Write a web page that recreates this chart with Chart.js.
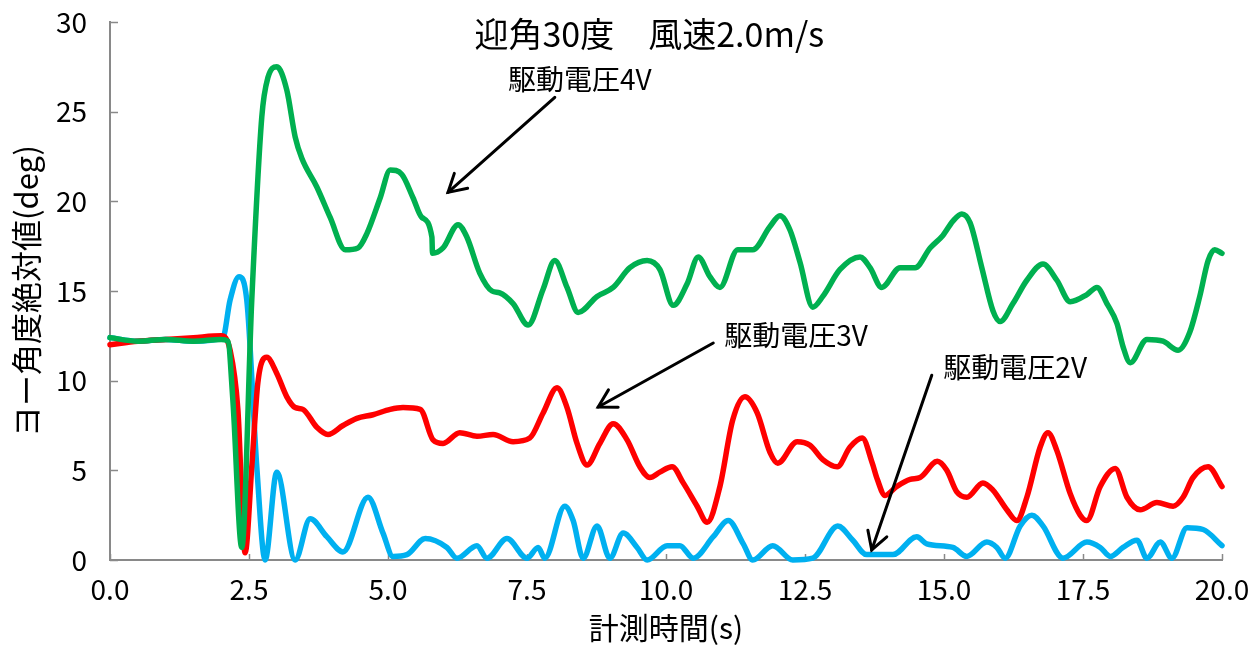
<!DOCTYPE html>
<html><head><meta charset="utf-8">
<script src="https://cdn.jsdelivr.net/npm/chart.js@4.4.1/dist/chart.umd.min.js"></script>
<style>html,body{margin:0;padding:0;background:#fff;}#wrap{width:1259px;height:648px;}</style>
</head><body><div id="wrap"><canvas id="c" width="1259" height="648"></canvas></div>
<script>
const titleText = '迎角30度　風速2.0m/s';
const xTitle = '計測時間(s)';
const yTitle = 'ヨー角度絶対値(deg)';
const xTicks = [0, 2.5, 5, 7.5, 10, 12.5, 15, 17.5, 20];
const yTicks = [0, 5, 10, 15, 20, 25, 30];

const t4V = [0,0.5,1,1.5,2,2.12,2.21,2.37,2.55,2.73,2.84,3.0,3.18,3.33,3.45,3.72,3.96,4.23,4.46,4.62,4.86,5.04,5.25,5.45,5.61,5.79,5.8,5.99,6.26,6.42,6.65,6.87,7.01,7.25,7.52,7.79,8.0,8.22,8.42,8.76,9.05,9.35,9.66,9.89,10.13,10.38,10.58,10.79,10.97,11.29,11.56,11.87,12.05,12.23,12.41,12.64,12.82,13.13,13.49,13.67,13.88,14.21,14.48,14.75,14.98,15.16,15.32,15.47,15.68,15.88,16.01,16.24,16.49,16.78,17.03,17.27,17.57,17.75,17.93,18.11,18.22,18.35,18.65,18.94,19.21,19.42,19.6,19.75,19.87,20.0];
const v4V = [12.4,12.2,12.3,12.2,12.3,12.2,8.9,0.7,14.5,24.7,26.9,27.5,26.2,23.6,22.4,20.8,19.1,17.3,17.4,18.2,20.2,21.75,21.5,20.2,19.1,18.0,17.1,17.4,18.7,18.0,16.0,15.0,14.9,14.3,13.1,15.1,16.7,15.2,13.8,14.7,15.2,16.3,16.7,16.2,14.2,15.4,16.9,15.8,15.2,17.3,17.3,18.6,19.2,18.4,16.6,14.1,14.7,16.2,16.9,16.3,15.2,16.3,16.3,17.4,18.1,18.9,19.3,18.8,16.3,13.9,13.3,14.3,15.6,16.5,15.6,14.4,14.8,15.2,14.3,13.2,11.9,11.0,12.3,12.2,11.7,12.7,14.7,16.7,17.3,17.1];

const t3V = [0,0.5,1,1.5,2,2.16,2.3,2.43,2.55,2.66,2.82,3.0,3.18,3.33,3.47,3.72,3.92,4.19,4.44,4.73,5.04,5.27,5.58,5.81,5.99,6.29,6.6,6.89,7.25,7.55,7.79,8.04,8.22,8.4,8.58,8.81,9.05,9.3,9.53,9.71,9.89,10.11,10.31,10.56,10.74,10.97,11.2,11.42,11.64,11.87,12.01,12.36,12.59,12.82,13.08,13.31,13.53,13.71,13.8,13.94,14.15,14.39,14.57,14.88,15.05,15.23,15.41,15.7,15.88,16.13,16.31,16.49,16.73,16.87,17.03,17.27,17.45,17.57,17.81,18.08,18.29,18.53,18.83,19.12,19.3,19.48,19.75,20.0];
const v3V = [12.0,12.2,12.3,12.4,12.5,11.7,8.4,0.4,5.2,9.9,11.3,10.4,9.1,8.5,8.4,7.4,7.0,7.5,7.9,8.1,8.4,8.5,8.4,6.7,6.5,7.1,6.9,7.0,6.6,6.8,8.2,9.6,8.5,6.5,5.3,6.5,7.6,6.7,5.2,4.6,4.9,5.2,4.3,3.0,2.1,4.1,7.8,9.1,8.2,6.0,5.4,6.6,6.4,5.6,5.2,6.3,6.8,5.4,4.5,3.6,4.1,4.5,4.6,5.5,5.0,3.8,3.5,4.3,3.9,2.8,2.2,3.5,6.3,7.1,6.1,3.7,2.5,2.2,4.1,5.1,3.5,2.8,3.2,3.0,3.5,4.6,5.2,4.1];

const t2V = [0,0.5,1,1.5,2.03,2.16,2.32,2.46,2.64,2.79,3.0,3.33,3.6,3.9,4.19,4.64,4.91,5.09,5.34,5.67,6.06,6.24,6.6,6.78,7.14,7.5,7.7,7.82,8.18,8.33,8.51,8.76,8.99,9.23,9.48,9.66,10.02,10.25,10.49,10.85,11.12,11.39,11.56,11.92,12.28,12.64,13.09,13.36,13.61,13.85,14.08,14.51,14.69,15.16,15.41,15.77,15.95,16.1,16.37,16.58,16.78,17.14,17.57,17.81,17.99,18.22,18.47,18.65,18.89,19.1,19.37,19.66,20.0];
const v2V = [12.4,12.2,12.3,12.2,12.4,14.5,15.8,14.5,5.2,0.0,4.9,0.0,2.3,1.3,0.45,3.5,1.5,0.2,0.3,1.2,0.7,0.1,0.8,0.1,1.2,0.1,0.7,0.1,3.0,2.2,0.1,1.9,0.1,1.5,0.7,0.0,0.8,0.8,0.1,1.3,2.2,0.9,0.0,0.8,0.0,0.1,1.9,1.1,0.3,0.3,0.3,1.3,0.9,0.7,0.2,1.0,0.7,0.1,1.9,2.5,1.9,0.1,1.0,0.7,0.2,0.7,1.1,0.1,1.0,0.1,1.8,1.7,0.8];

const labels = ['駆動電圧4V', '駆動電圧3V', '駆動電圧2V'];

const pts = (t, v) => t.map((x, i) => ({x, y: v[i]}));
const tickFont = {family: "'Noto Sans CJK JP', sans-serif", size: 28};
const cjk = "'Noto Sans CJK JP', sans-serif";

// annotation anchors in data coordinates
const notes = [
  {text: labels[0], tx: 8.45, ty: 26.8, from: [8.0, 25.8], to: [6.08, 20.5]},
  {text: labels[1], tx: 12.34, ty: 12.5, from: [10.85, 12.1], to: [8.78, 8.53]},
  {text: labels[2], tx: 16.28, ty: 10.76, from: [14.78, 10.3], to: [13.7, 0.56]}
];

const deco = {
  id: 'deco',
  beforeDatasetsDraw(chart) {
    const {ctx, scales: {x, y}, chartArea: a} = chart;
    ctx.save();
    ctx.strokeStyle = '#898989'; ctx.lineWidth = 1.5;
    xTicks.forEach(v => { const p = Math.round(x.getPixelForValue(v)) + 0.5; ctx.beginPath(); ctx.moveTo(p, a.bottom); ctx.lineTo(p, a.bottom - 6); ctx.stroke(); });
    yTicks.forEach(v => { const p = Math.round(y.getPixelForValue(v)) + 0.5; ctx.beginPath(); ctx.moveTo(a.left, p); ctx.lineTo(a.left + 8, p); ctx.stroke(); });
    ctx.restore();
  },
  afterDraw(chart) {
    const {ctx, scales: {x, y}} = chart;
    ctx.save();
    ctx.fillStyle = '#000';
    ctx.textAlign = 'center'; ctx.textBaseline = 'middle';
    ctx.font = "34px " + cjk;
    ctx.fillText(titleText, x.getPixelForValue(9.7), y.getPixelForValue(29.3));
    ctx.font = "28px " + cjk;
    ctx.strokeStyle = '#000'; ctx.lineWidth = 3; ctx.lineCap = 'round';
    notes.forEach(n => {
      ctx.fillText(n.text, x.getPixelForValue(n.tx), y.getPixelForValue(n.ty));
      const x1 = x.getPixelForValue(n.from[0]), y1 = y.getPixelForValue(n.from[1]);
      const x2 = x.getPixelForValue(n.to[0]), y2 = y.getPixelForValue(n.to[1]);
      ctx.beginPath(); ctx.moveTo(x1, y1); ctx.lineTo(x2, y2); ctx.stroke();
      const ang = Math.atan2(y2 - y1, x2 - x1), L = 20, s = Math.PI / 6;
      ctx.beginPath();
      ctx.moveTo(x2 - L * Math.cos(ang - s), y2 - L * Math.sin(ang - s));
      ctx.lineTo(x2, y2);
      ctx.lineTo(x2 - L * Math.cos(ang + s), y2 - L * Math.sin(ang + s));
      ctx.stroke();
    });
    ctx.restore();
  }
};

new Chart(document.getElementById('c'), {
  type: 'line',
  data: {
    datasets: [
      {label: labels[0], data: pts(t4V, v4V), borderColor: '#00B050', order: 0},
      {label: labels[1], data: pts(t3V, v3V), borderColor: '#FF0000', order: 1},
      {label: labels[2], data: pts(t2V, v2V), borderColor: '#00B0F0', order: 2}
    ]
  },
  options: {
    responsive: false, animation: false, devicePixelRatio: 1,
    layout: {padding: {top: 22, right: 37, left: 0, bottom: 0}},
    plugins: {legend: {display: false}, tooltip: {enabled: false}},
    elements: {
      point: {radius: 0},
      line: {borderWidth: 5.5, cubicInterpolationMode: 'monotone', borderCapStyle: 'round', borderJoinStyle: 'round', fill: false}
    },
    datasets: {line: {clip: false}},
    scales: {
      x: {
        type: 'linear', min: 0, max: 20,
        afterBuildTicks: s => { s.ticks = xTicks.map(v => ({value: v})); },
        ticks: {callback: v => v.toFixed(1), font: tickFont, color: '#000', padding: 5, maxRotation: 0, autoSkip: false},
        grid: {display: false},
        border: {display: true, color: '#898989', width: 2},
        title: {display: true, text: xTitle, font: {family: cjk, size: 30}, color: '#000', padding: {top: 0, bottom: 2}},
        afterFit: s => { s.height = 88; s.paddingLeft = 0; s.paddingRight = 0; }
      },
      y: {
        type: 'linear', min: 0, max: 30,
        afterBuildTicks: s => { s.ticks = yTicks.map(v => ({value: v})); },
        ticks: {font: tickFont, color: '#000', padding: 15},
        grid: {display: false},
        border: {display: true, color: '#898989', width: 2},
        title: {display: true, text: yTitle, font: {family: cjk, size: 31}, color: '#000', padding: {top: 8, bottom: 0}},
        afterFit: s => { s.width = 110; s.paddingTop = 0; s.paddingBottom = 0; }
      }
    }
  },
  plugins: [deco]
});
</script></body></html>
